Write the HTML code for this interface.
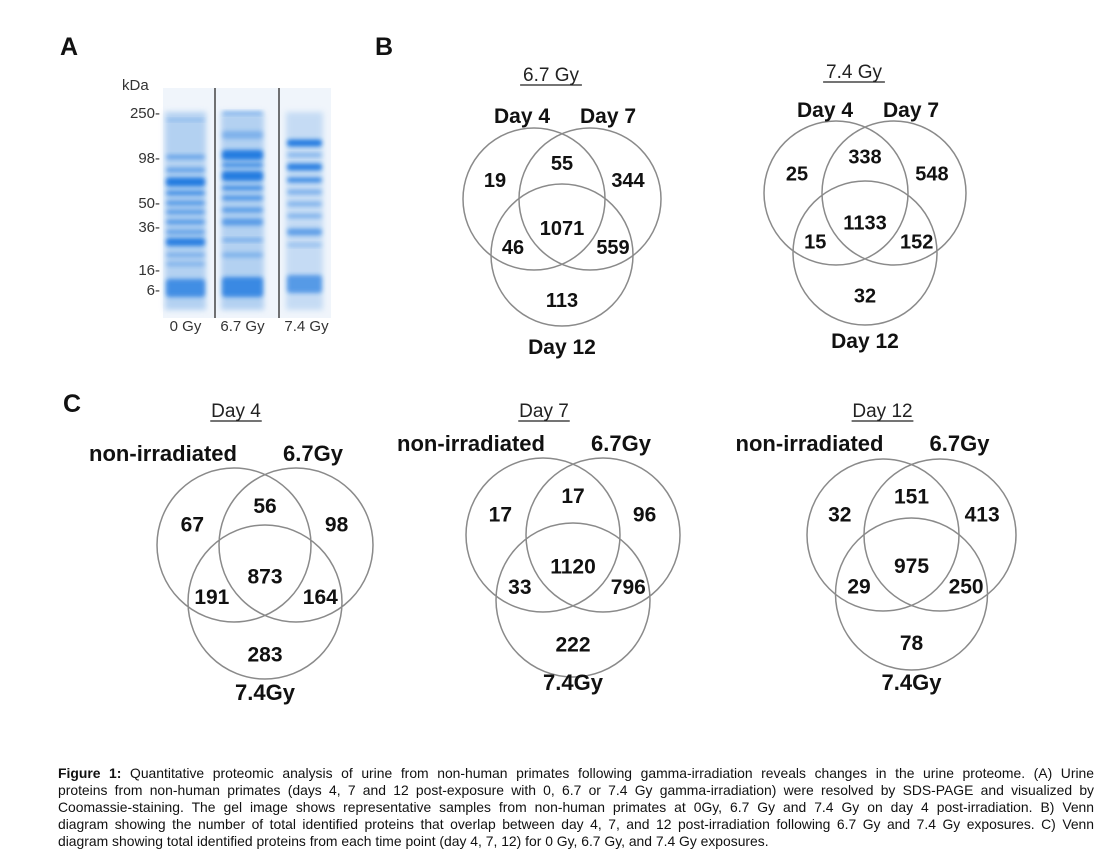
<!DOCTYPE html>
<html><head><meta charset="utf-8">
<style>
html,body{margin:0;padding:0;background:#fff;}
body{width:1104px;height:858px;position:relative;overflow:hidden;font-family:"Liberation Sans",Arial,sans-serif;}
#fig{position:absolute;left:0;top:0;}
.cap{position:absolute;left:58px;top:765px;width:1036px;font-size:13.9px;line-height:17px;color:#111;}
.cap span{display:block;text-align:justify;text-align-last:justify;white-space:nowrap;}
.cap span.last{text-align-last:left;}
</style></head>
<body>
<svg id="fig" width="1104" height="858">
<defs>
<filter id="blur" x="-20%" y="-80%" width="140%" height="260%"><feGaussianBlur stdDeviation="2.2"/></filter>
<filter id="blur2" x="-20%" y="-20%" width="140%" height="140%"><feGaussianBlur stdDeviation="3"/></filter>
</defs>
<g font-family="Liberation Sans, Arial, sans-serif" font-weight="bold" font-size="25" fill="#111">
<text x="60" y="55">A</text>
<text x="375" y="55">B</text>
<text x="63" y="412">C</text>
</g>
<g id="gel"></g>
<g id="venns"></g>
</svg>
<div class="cap"><span><b>Figure 1:</b> Quantitative proteomic analysis of urine from non-human primates following gamma-irradiation reveals changes in the urine proteome. (A) Urine</span><span>proteins from non-human primates (days 4, 7 and 12 post-exposure with 0, 6.7 or 7.4 Gy gamma-irradiation) were resolved by SDS-PAGE and visualized by</span><span>Coomassie-staining. The gel image shows representative samples from non-human primates at 0Gy, 6.7 Gy and 7.4 Gy on day 4 post-irradiation. B) Venn</span><span>diagram showing the number of total identified proteins that overlap between day 4, 7, and 12 post-irradiation following 6.7 Gy and 7.4 Gy exposures. C) Venn</span><span class="last">diagram showing total identified proteins from each time point (day 4, 7, 12) for 0 Gy, 6.7 Gy, and 7.4 Gy exposures.</span></div>
<script>
const NS="http://www.w3.org/2000/svg";
// Venn region counts: [A only, A∩B, B only, A∩B∩C, A∩C, B∩C, C only]
const vennB1=[19,55,344,1071,46,559,113];
const vennB2=[25,338,548,1133,15,152,32];
const vennC4=[67,56,98,873,191,164,283];
const vennC7=[17,17,96,1120,33,796,222];
const vennC12=[32,151,413,975,29,250,78];
const titlesB=["6.7 Gy","7.4 Gy"];
const titlesC=["Day 4","Day 7","Day 12"];
const setsB=["Day 4","Day 7","Day 12"];
const setsC=["non-irradiated","6.7Gy","7.4Gy"];
// gel marker labels
const markers=["250-","98-","50-","36-","16-","6-"];
const lanes=["0 Gy","6.7 Gy","7.4 Gy"];

function el(tag,attrs,parent,txt){const e=document.createElementNS(NS,tag);for(const k in attrs)e.setAttribute(k,attrs[k]);if(txt!==undefined)e.textContent=txt;parent.appendChild(e);return e;}

const venns=document.getElementById('venns');
function venn(vals,sets,title,x0,y0,d,h,r,isC,name,titleY){
  const grp=el('g',{},venns);
  
  
  const mx=x0+d/2, s=r/71;
  [[x0,y0],[x0+d,y0],[mx,y0+h]].forEach((c,i)=>{
    const ci=el('circle',{cx:c[0],cy:c[1],r:r,fill:'none',stroke:'#8a8a8a','stroke-width':1.5},grp);
    
    
  });
  const off=[[-67,-19],[0,-36],[66,-19],[0,29],[-49,48],[51,48],[0,101]];
  vals.forEach((v,i)=>{
    const t=el('text',{x:mx+off[i][0]*s,y:y0+off[i][1]*s+7,'text-anchor':'middle','font-size':isC?21:20,'font-weight':'bold',fill:'#111'},grp,String(v));
    
    
  });
  let lx=isC?[mx-102,mx+48]:[mx-40,mx+46];
  let ly=isC?y0-84:y0-76;
  const fs=isC?22:21;
  const l1=el('text',{x:lx[0],y:ly,'text-anchor':'middle','font-size':fs,'font-weight':'bold',fill:'#111'},grp,sets[0]);
  
  
  const l2=el('text',{x:lx[1],y:ly,'text-anchor':'middle','font-size':fs,'font-weight':'bold',fill:'#111'},grp,sets[1]);
  
  
  const l3=el('text',{x:mx,y:y0+155,'text-anchor':'middle','font-size':fs,'font-weight':'bold',fill:'#111'},grp,sets[2]);
  
  
  const tx=isC?mx-29:mx-11, ty=titleY;
  const tt=el('text',{x:tx,y:ty,'text-anchor':'middle','font-size':19,fill:'#222'},grp,title);
  
  
  const bb=title.length*10.3;
  el('line',{x1:tx-bb/2,x2:tx+bb/2,y1:ty+4,y2:ty+4,stroke:'#222','stroke-width':1.3},grp);
}
venn(vennB1,setsB,titlesB[0],534,199,56,56,71,false,'venn-6-7gy',81);
venn(vennB2,setsB,titlesB[1],836,193,58,60,72,false,'venn-7-4gy',78);
venn(vennC4,setsC,titlesC[0],234,545,62,57,77,true,'venn-day-4',417);
venn(vennC7,setsC,titlesC[1],543,535,60,65,77,true,'venn-day-7',417);
venn(vennC12,setsC,titlesC[2],883,535,57,59,76,true,'venn-day-12',417);

// Gel
const gel=document.getElementById('gel');
el('rect',{x:163,y:88,width:168,height:230,fill:'#f0f5fb'},gel);
const markerY=[113,158,203,227,270,290];
const kd=el('text',{x:122,y:90,'font-size':15,fill:'#333'},gel,'kDa');


markers.forEach((m,i)=>{
  const t=el('text',{x:160,y:markerY[i]+5,'text-anchor':'end','font-size':15,fill:'#333'},gel,m);
  
  
});
const laneX=[[165,206],[221,264],[286,323]];
const lanesBands=[
 [[120,2,0.35],[157,4,0.55],[170,4,0.6],[182,9,0.95],[193,5,0.7],[203,5,0.6],[212,5,0.55],[222,5,0.6],[232,5,0.5],[242,8,0.9],[255,4,0.4],[264,4,0.35],[288,18,0.75]],
 [[113,3,0.45],[135,8,0.35],[155,10,0.95],[165,5,0.7],[176,10,0.95],[188,5,0.7],[198,5,0.65],[210,5,0.6],[222,7,0.6],[240,3,0.5],[255,5,0.35],[287,20,0.8]],
 [[143,7,0.95],[155,3,0.5],[167,7,0.9],[180,5,0.8],[192,4,0.5],[204,4,0.45],[216,4,0.45],[232,7,0.6],[245,3,0.35],[284,18,0.65]]
];
laneX.forEach((lx,i)=>{
  el('rect',{x:lx[0],y:112,width:lx[1]-lx[0],height:198,fill:'#a9cbf0',opacity:i==2?0.6:0.85,filter:'url(#blur2)'},gel);
  lanesBands[i].forEach(b=>{
    el('rect',{x:lx[0]+1,y:b[0]-b[1]/2,width:lx[1]-lx[0]-2,height:b[1],rx:3,fill:'#1e78e0',opacity:b[2],filter:'url(#blur)'},gel);
  });
  const t=el('text',{x:(lx[0]+lx[1])/2+(i==2?2:0),y:331,'text-anchor':'middle','font-size':15,fill:'#333'},gel,lanes[i]);
  
  
});
el('line',{x1:215,x2:215,y1:88,y2:318,stroke:'#444','stroke-width':1.5},gel);
el('line',{x1:279,x2:279,y1:88,y2:318,stroke:'#444','stroke-width':1.5},gel);
</script>
</body></html>
